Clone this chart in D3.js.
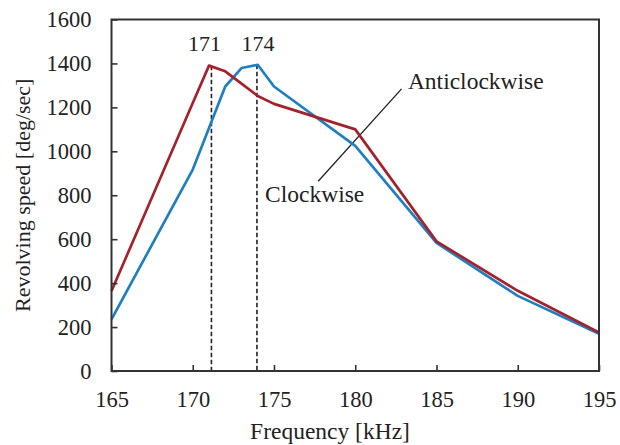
<!DOCTYPE html>
<html>
<head>
<meta charset="utf-8">
<script src="https://cdn.jsdelivr.net/npm/d3@7"></script>
<style>
  body { margin: 0; background: #fff; }
  text { font-family: "Liberation Serif", "Times New Roman", serif; fill: #222; }
</style>
</head>
<body>
<div id="chart"></div>
<script>
let freq = [165, 170, 171, 172, 173, 174, 175, 180, 185, 190, 195];
let clockwise = [235, 917, 1106, 1295, 1379, 1394, 1295, 1025, 583, 342, 170];
let anticlockwise = [364, 1220, 1390, 1364, 1308, 1252, 1216, 1100, 590, 365, 175];
let xTicks = [165, 170, 175, 180, 185, 190, 195];
let yTicks = [0, 200, 400, 600, 800, 1000, 1200, 1400, 1600];
let peakFreq = [171.15, 173.95];
let peakSpeed = [1390, 1394];
let peakLabels = ["171", "174"];

const width = 620;
const height = 445;
const margin = { top: 19.5, right: 21, bottom: 74, left: 111.5 };

const svg = d3
  .select("#chart")
  .append("svg")
  .attr("width", width)
  .attr("height", height);

const x = d3.scaleLinear().domain([165, 195]).range([margin.left, width - margin.right]);
const y = d3.scaleLinear().domain([0, 1600]).range([height - margin.bottom, margin.top]);

// dashed peak markers
peakFreq.forEach((f, i) => {
  svg
    .append("line")
    .attr("x1", x(f))
    .attr("x2", x(f))
    .attr("y1", y(peakSpeed[i]))
    .attr("y2", y(0))
    .attr("stroke", "#222")
    .attr("stroke-width", 1.6)
    .attr("stroke-dasharray", "4.5,2.5");
  svg
    .append("text")
    .attr("x", x(f) + (i === 0 ? -7 : 1))
    .attr("y", y(1455))
    .attr("text-anchor", "middle")
    .attr("font-size", 22)
    .text(peakLabels[i]);
});

// leader line for the two curve labels
svg
  .append("line")
  .attr("x1", x(182.85))
  .attr("y1", y(1284))
  .attr("x2", x(177.72))
  .attr("y2", y(864))
  .attr("stroke", "#222")
  .attr("stroke-width", 1.3);

const line = d3
  .line()
  .x((d, i) => x(freq[i]))
  .y((d) => y(d));

svg
  .append("path")
  .attr("d", line(clockwise))
  .attr("fill", "none")
  .attr("stroke", "#1f7fc2")
  .attr("stroke-width", 2.7)
  .attr("stroke-linejoin", "round");

svg
  .append("path")
  .attr("d", line(anticlockwise))
  .attr("fill", "none")
  .attr("stroke", "#a3232d")
  .attr("stroke-width", 2.7)
  .attr("stroke-linejoin", "round");

svg
  .append("text")
  .attr("x", x(183.24))
  .attr("y", y(1285))
  .attr("font-size", 23.5)
  .text("Anticlockwise");

svg
  .append("text")
  .attr("x", x(174.45))
  .attr("y", y(771))
  .attr("font-size", 23.5)
  .text("Clockwise");

// axes, ticks inside
const xAxis = svg
  .append("g")
  .attr("transform", `translate(0,${y(0)})`)
  .call(
    d3.axisBottom(x).tickValues(xTicks).tickFormat(d3.format("d"))
      .tickSizeInner(-6).tickSizeOuter(0).tickPadding(20)
  );

const yAxis = svg
  .append("g")
  .attr("transform", `translate(${x(165)},0)`)
  .call(
    d3.axisLeft(y).tickValues(yTicks).tickFormat(d3.format("d"))
      .tickSizeInner(-6).tickSizeOuter(0).tickPadding(20)
  );

[xAxis, yAxis].forEach((g) => {
  g.selectAll("text").attr("font-size", 22.5).attr("font-family", "Liberation Serif").attr("fill", "#222");
  g.selectAll("line").attr("stroke", "#333").attr("stroke-width", 1.6);
  g.select(".domain").remove();
});

// frame
svg
  .append("rect")
  .attr("x", x(165))
  .attr("y", y(1600))
  .attr("width", x(195) - x(165))
  .attr("height", y(0) - y(1600))
  .attr("fill", "none")
  .attr("stroke", "#333")
  .attr("stroke-width", 2);

svg
  .append("text")
  .attr("x", 330)
  .attr("y", 439)
  .attr("text-anchor", "middle")
  .attr("font-size", 23.5)
  .text("Frequency [kHz]");

svg
  .append("text")
  .attr("transform", `translate(30,${(y(0) + y(1600)) / 2}) rotate(-90)`)
  .attr("text-anchor", "middle")
  .attr("font-size", 22)
  .text("Revolving speed [deg/sec]");
</script>
</body>
</html>
